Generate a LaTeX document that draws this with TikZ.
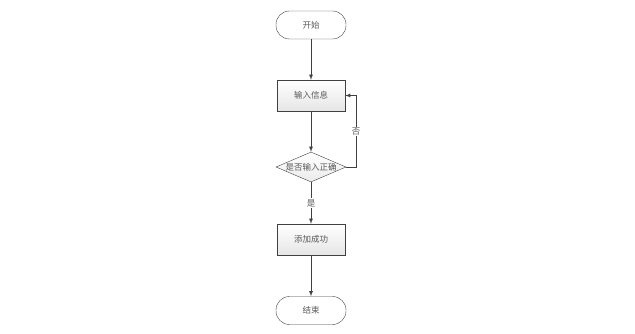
\documentclass[tikz,border=0pt]{standalone}
\usepackage{fontspec}
\newfontfamily\cjk{Noto Sans CJK SC}
\usetikzlibrary{shapes.geometric}

\begin{document}
\begin{tikzpicture}[
    x=1pt, y=-1pt,
    every node/.style={
        font=\cjk\fontsize{8.5}{10}\selectfont,
        text=black!65,
        align=center
    },
    term/.style={
        draw=black!75,
        fill=white,
        rounded corners=13.5pt,
        minimum width=70pt,
        minimum height=28pt
    },
    proc/.style={
        draw=black!75,
        top color=white,
        bottom color=black!10,
        minimum width=68pt,
        minimum height=31pt
    },
    decide/.style={
        draw=black!75,
        diamond,
        aspect=2.4,
        inner sep=0pt,
        top color=white,
        bottom color=black!8,
        minimum width=70pt,
        minimum height=30pt
    },
    flow/.style={draw=black!75, line width=0.8pt, -latex}
]
\useasboundingbox (0,0) rectangle (635,334);

\node[term]   (start) at (311,25)    {开始};
\node[proc]   (inp)   at (311,95.5)  {输入信息};
\node[decide] (chk)   at (311,167)   {是否输入正确};
\node[proc]   (ok)    at (311,239.5) {添加成功};
\node[term]   (stop)  at (311,310.5) {结束};

\draw[flow] (start) -- (inp);
\draw[flow] (inp) -- (chk);
\draw[flow] (chk) -- node[fill=white, inner sep=1pt] {是} (ok);
\draw[flow] (chk.east) -- ++(10,0) |- node[pos=0.25, fill=white, inner sep=1pt] {否} (inp.east);
\draw[flow] (ok) -- (stop);
\end{tikzpicture}
\end{document}
